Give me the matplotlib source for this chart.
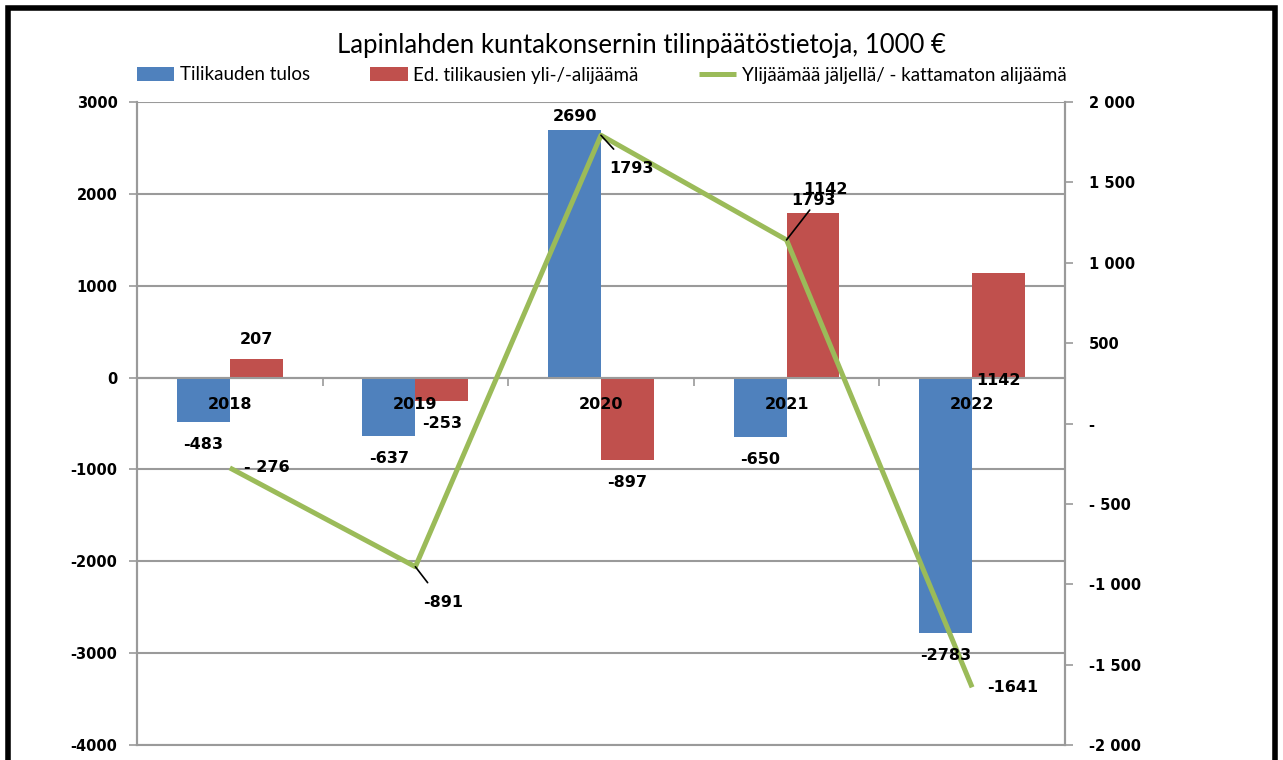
import matplotlib
matplotlib.use("Agg")
import matplotlib.pyplot as plt
from matplotlib.ticker import FuncFormatter, FixedLocator
from matplotlib.patches import Rectangle
import matplotlib.transforms as mtrans
import numpy as np

plt.rcParams["axes.unicode_minus"] = False

# ---- data ----
years = ["2018", "2019", "2020", "2021", "2022"]
tulos = [-483, -637, 2690, -650, -2783]
ed_tilikausien = [207, -253, -897, 1793, 1142]
ylijaama = [-276, -891, 1793, 1142, -1641]
ylijaama_labels = ["- 276", "-891", "1793", "1142", "-1641"]

title = "Lapinlahden kuntakonsernin tilinpäätöstietoja, 1000 €"
legend_names = ["Tilikauden tulos", "Ed. tilikausien yli-/-alijäämä",
                "Ylijäämää jäljellä/ - kattamaton alijäämä"]

blue = "#4F81BD"
red = "#C0504D"
green = "#9BBB59"
grid_c = "#9a9a9a"

fig = plt.figure(figsize=(12.83, 7.6), dpi=100)
ax = fig.add_axes([0.1068, 0.0197, 0.830 - 0.1068, 0.8658 - 0.0197])
ax2 = ax.twinx()

x = np.arange(len(years))
w = 0.285
b1 = ax.bar(x - w / 2, tulos, w, color=blue, zorder=2, label=legend_names[0])
b2 = ax.bar(x + w / 2, ed_tilikausien, w, color=red, zorder=2, label=legend_names[1])
ln, = ax2.plot(x, ylijaama, color=green, lw=3.6, zorder=5, label=legend_names[2],
               solid_capstyle="butt")

ax.set_xlim(-0.5, len(years) - 0.5)
ax.set_ylim(-4000, 3000)
ax2.set_ylim(-2000, 2000)
ax.set_yticks(np.arange(-4000, 3001, 1000))
ax2.set_yticks(np.arange(-2000, 2001, 500))

# grid
ax.yaxis.grid(True, color=grid_c, lw=1.5, zorder=0)
ax.set_axisbelow(True)

# spines
ax.spines["top"].set_visible(False)
ax2.spines["top"].set_visible(False)
ax.spines["bottom"].set_position(("data", 0))
for a in (ax, ax2):
    for s in ["left", "right", "bottom"]:
        a.spines[s].set_color(grid_c)
        a.spines[s].set_linewidth(1.5)

# x ticks: marks at boundaries, labels drawn as text at centers
ax.xaxis.set_major_locator(FixedLocator(np.arange(0.5, len(years) - 0.5, 1.0)))
ax.xaxis.set_major_formatter(FuncFormatter(lambda v, p: ""))
ax.tick_params(axis="x", which="major", length=6, width=1.2, color=grid_c, direction="out")

cat_tr = ax.transData + mtrans.ScaledTranslation(0, -27 / 100, fig.dpi_scale_trans)
for i, yr in enumerate(years):
    ax2.text(x[i], 0, yr, transform=cat_tr, ha="center", va="center",
             fontsize=11.5, fontweight="bold", family="DejaVu Sans", zorder=7)

ax.tick_params(axis="y", length=6, width=1.2, color=grid_c, labelsize=10.5, pad=8)
for t in ax.get_yticklabels():
    t.set_fontweight("bold")

def right_fmt(v, p):
    v = int(round(v))
    if v == 0:
        return "-"
    s = f"{abs(v):,}".replace(",", " ")
    if v < 0:
        return ("- " if abs(v) < 1000 else "-") + s
    return s

ax2.yaxis.set_major_formatter(FuncFormatter(right_fmt))
ax2.tick_params(axis="y", length=6, width=1.2, color=grid_c, labelsize=10.5, pad=11)
for t in ax2.get_yticklabels():
    t.set_fontweight("bold")

lab_kw = dict(fontsize=11.5, fontweight="bold", ha="center", va="center",
              family="DejaVu Sans", zorder=6)

# bar labels
for i, v in enumerate(tulos):
    off = 10 if v > 0 else -16
    ax2.annotate(str(v), (x[i] - w / 2, v), xycoords=ax.transData,
                 xytext=(0, off), textcoords="offset points", **lab_kw)
for i, v in enumerate(ed_tilikausien):
    if i == len(years) - 1:
        ax2.annotate(str(v), (x[i] + w / 2, 0), xycoords=ax.transData,
                     xytext=(0, -2), textcoords="offset points", **lab_kw)
        continue
    off = (14 if i == 0 else 9) if v > 0 else -16
    ax2.annotate(str(v), (x[i] + w / 2, v), xycoords=ax.transData,
                 xytext=(0, off), textcoords="offset points", **lab_kw)

# line labels (offsets in points)
line_offsets = [(27, 0), (20, -26), (22, -24), (28, 36), (29, 0)]
leader = [False, True, True, True, False]
for i, v in enumerate(ylijaama):
    dx, dy = line_offsets[i]
    if leader[i]:
        ax2.annotate(ylijaama_labels[i], (x[i], v), xytext=(dx, dy), textcoords="offset points",
                     arrowprops=dict(arrowstyle="-", color="black", lw=1.2,
                                     shrinkA=9, shrinkB=0), **lab_kw)
    else:
        ax2.annotate(ylijaama_labels[i], (x[i], v), xytext=(dx, dy), textcoords="offset points",
                     **lab_kw)

# title and legend
fig.text(0.5, 1 - 45 / 760, title, ha="center", va="center", fontsize=18.5, family="Lato")
fig.legend(handles=[b1, b2, ln], labels=legend_names, loc="center",
           bbox_to_anchor=(0.469, 1 - 75 / 760), ncol=3, frameon=False,
           prop={"family": "Lato", "size": 13.5}, columnspacing=3.2,
           handlelength=2.0, handleheight=0.75, handletextpad=0.3)

# outer black frame
fig.patches.append(Rectangle((0.006, -0.05), 0.988, 1.04, transform=fig.transFigure,
                             fill=False, edgecolor="black", lw=4, zorder=10))

fig.savefig("out.png", dpi=100)
